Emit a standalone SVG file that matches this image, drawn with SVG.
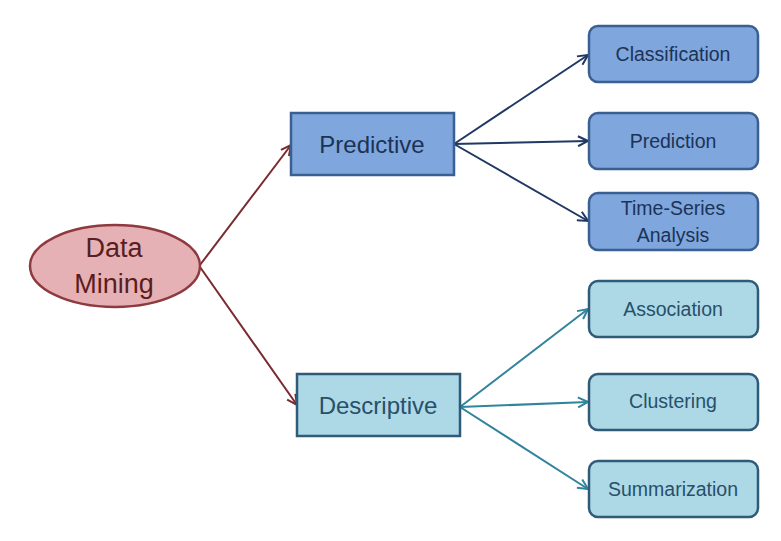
<svg xmlns="http://www.w3.org/2000/svg" width="781" height="541" viewBox="0 0 781 541">
<defs>
<style>
text{font-family:"Liberation Sans",Arial,sans-serif;text-anchor:middle}
.blue{fill:#7fa6dd;stroke:#3b5f90;stroke-width:2.5}
.light{fill:#add8e6;stroke:#2f5a78;stroke-width:2.5}
.tb{fill:#1c3356}
.tl{fill:#27506a}
.cr{stroke:#7a2a2e;stroke-width:2;fill:none}
.cn{stroke:#1f3864;stroke-width:2;fill:none}
.ct{stroke:#31849b;stroke-width:2;fill:none}
</style>
<marker id="ar" viewBox="0 0 12 12" refX="11" refY="6" markerWidth="12" markerHeight="12" markerUnits="userSpaceOnUse" orient="auto"><path d="M1,1 L11,6 L1,11" fill="none" stroke="#7a2a2e" stroke-width="2"/></marker>
<marker id="an" viewBox="0 0 12 12" refX="11" refY="6" markerWidth="12" markerHeight="12" markerUnits="userSpaceOnUse" orient="auto"><path d="M1,1 L11,6 L1,11" fill="none" stroke="#1f3864" stroke-width="2"/></marker>
<marker id="at" viewBox="0 0 12 12" refX="11" refY="6" markerWidth="12" markerHeight="12" markerUnits="userSpaceOnUse" orient="auto"><path d="M1,1 L11,6 L1,11" fill="none" stroke="#31849b" stroke-width="2"/></marker>
</defs>
<rect width="781" height="541" fill="#ffffff"/>
<g id="connectors">
<line class="cr" x1="200" y1="265" x2="291" y2="145" marker-end="url(#ar)"/>
<line class="cr" x1="200" y1="267" x2="297" y2="405" marker-end="url(#ar)"/>
<line class="cn" x1="454" y1="144" x2="588" y2="55" marker-end="url(#an)"/>
<line class="cn" x1="454" y1="144" x2="588" y2="141" marker-end="url(#an)"/>
<line class="cn" x1="454" y1="144" x2="588" y2="221" marker-end="url(#an)"/>
<line class="ct" x1="460" y1="407" x2="588" y2="309" marker-end="url(#at)"/>
<line class="ct" x1="460" y1="407" x2="588" y2="402" marker-end="url(#at)"/>
<line class="ct" x1="460" y1="407" x2="588" y2="489" marker-end="url(#at)"/>
</g>
<g id="data-mining">
<ellipse cx="115" cy="266" rx="85" ry="41" fill="#e6b1b5" stroke="#8e3a3f" stroke-width="2.5"/>
<text x="114" y="257" font-size="27" fill="#5a1d22">Data</text>
<text x="114" y="293" font-size="27" fill="#5a1d22">Mining</text>
</g>
<g id="predictive">
<rect class="blue" x="291" y="113" width="163" height="62"/>
<text class="tb" x="372" y="153" font-size="24">Predictive</text>
</g>
<g id="descriptive">
<rect class="light" x="297" y="374" width="163" height="62"/>
<text class="tl" x="378" y="414" font-size="24">Descriptive</text>
</g>
<g id="classification">
<rect class="blue" x="589" y="26" width="169" height="56" rx="9"/>
<text class="tb" x="673" y="61" font-size="19.5">Classification</text>
</g>
<g id="prediction">
<rect class="blue" x="589" y="113" width="169" height="56" rx="9"/>
<text class="tb" x="673" y="148" font-size="19.5">Prediction</text>
</g>
<g id="time-series">
<rect class="blue" x="589" y="193" width="169" height="57" rx="9"/>
<text class="tb" x="673" y="215" font-size="19.5">Time-Series</text>
<text class="tb" x="673" y="242" font-size="19.5">Analysis</text>
</g>
<g id="association">
<rect class="light" x="589" y="281" width="169" height="56" rx="9"/>
<text class="tl" x="673" y="316" font-size="19.5">Association</text>
</g>
<g id="clustering">
<rect class="light" x="589" y="374" width="169" height="56" rx="9"/>
<text class="tl" x="673" y="408" font-size="19.5">Clustering</text>
</g>
<g id="summarization">
<rect class="light" x="589" y="461" width="169" height="56" rx="9"/>
<text class="tl" x="673" y="496" font-size="19.5">Summarization</text>
</g>
</svg>
